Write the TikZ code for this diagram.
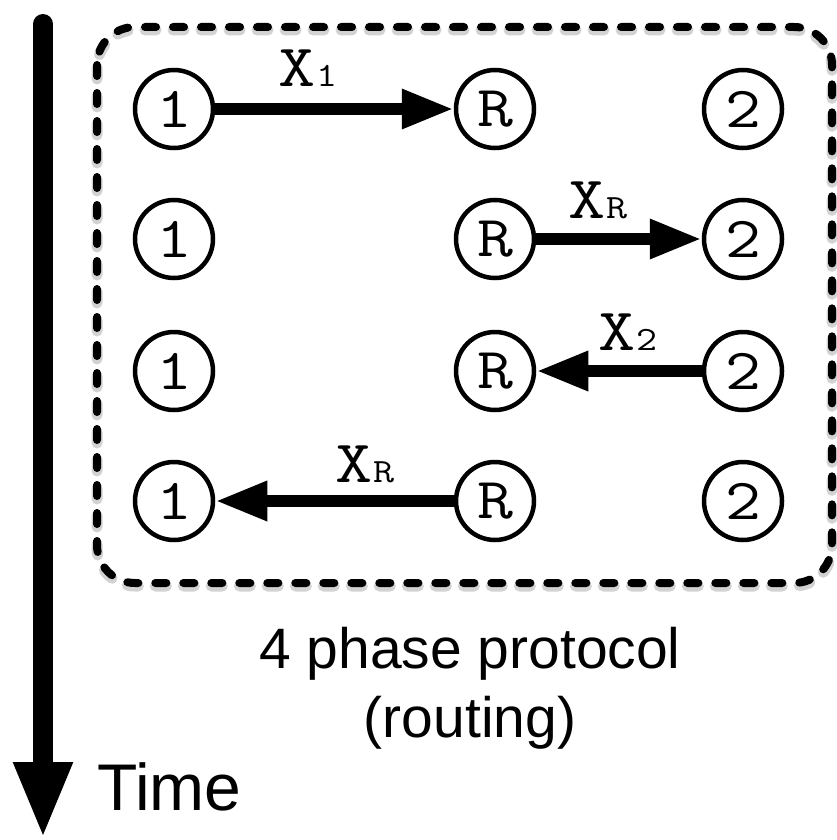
\documentclass[tikz,border=0pt]{standalone}
\usepackage{fontspec}
\setmainfont{Liberation Sans}
\setmonofont[FakeStretch=1.2]{Latin Modern Mono}
\usetikzlibrary{arrows.meta}
\newcommand\smallsub[1]{{\fontsize{34}{34}\selectfont #1}}
\begin{document}
\begin{tikzpicture}[x=1pt,y=-1pt,
  station/.style={circle, draw, line width=4.5pt, minimum size=78pt, inner sep=0pt,
    font=\fontsize{58}{58}\selectfont\ttfamily},
  msg/.style={line width=12pt, -{Triangle[length=52pt,width=37pt]}},
  lbl/.style={anchor=base, inner sep=0pt, font=\fontsize{60}{60}\selectfont\ttfamily},
  caption/.style={anchor=base, inner sep=0pt, font=\fontsize{57}{57}\selectfont}]
\useasboundingbox (0,0) rectangle (837,840);

% frame with soft shadow
\draw[black!35, opacity=0.5, line width=11pt, rounded corners=38pt,
      dash pattern=on 11pt off 17pt, line cap=round]
  (97,30) rectangle (832,586);
\draw[line width=8pt, rounded corners=38pt, dash pattern=on 11pt off 17pt, line cap=round]
  (97,27) rectangle (832,583);

% time axis
\coordinate (tstart) at (43,24);
\coordinate (tend) at (43,839);
\draw[line width=20pt, line cap=round, -{Triangle[length=77pt,width=54pt]}] (tstart) -- (tend);
\node[anchor=base west, inner sep=0pt, font=\fontsize{66}{66}\selectfont] (time) at (97,810) {Time};

% stations
\foreach \r/\y in {1/109,2/239,3/371,4/501}{
  \node[station] (a\r) at (174,\y) {1};
  \node[station] (r\r) at (495,\y) {R};
  \node[station] (b\r) at (743,\y) {2};
}

% messages
\draw[msg] (a1) -- (r1);
\node[lbl] (l1) at (308,87) {X\smallsub{1}};
\draw[msg] (r2) -- (b2);
\node[lbl] (l2) at (598,218) {X\smallsub{R}};
\draw[msg] (b3) -- (r3);
\node[lbl] (l3) at (628,350) {X\smallsub{2}};
\draw[msg] (r4) -- (a4);
\node[lbl] (l4) at (365,482) {X\smallsub{R}};

% caption
\node[caption] (cap1) at (470,668) {4 phase protocol};
\node[caption] (cap2) at (470,737) {(routing)};
\end{tikzpicture}
\end{document}
